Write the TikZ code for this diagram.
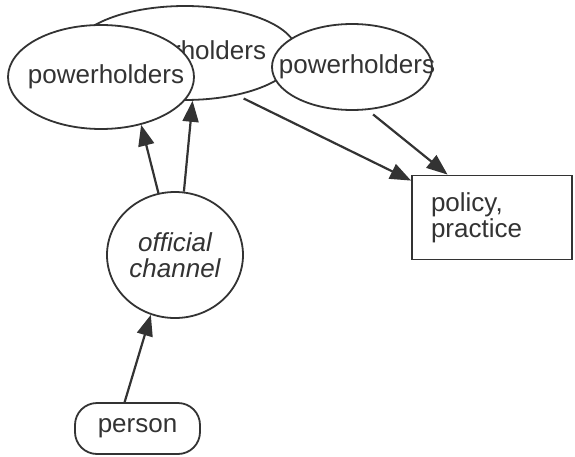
\documentclass[tikz,border=0pt]{standalone}
\usepackage{fontspec}
\setmainfont{Liberation Sans}
\usetikzlibrary{arrows.meta,shapes.geometric}

\definecolor{ink}{HTML}{333333}

\tikzset{
  every node/.style={font=\fontsize{26}{26}\selectfont, text=ink},
  outline/.style={draw=ink, line width=1.8pt, fill=white},
  blob/.style={outline, ellipse, inner sep=0pt},
  flow/.style={draw=ink, line width=2.2pt,
    -{Triangle[length=21pt,width=16pt,fill=ink]}},
}

\begin{document}
\begin{tikzpicture}[x=1pt,y=1pt]
\useasboundingbox (0,0) rectangle (575,456);

% the three groups of powerholders, the middle one lying behind the others
\node[blob, minimum width=224pt, minimum height=94pt] (mid) at (185,403)
  {\makebox[0pt]{\hspace{6pt}powerholders}};
\node[blob, minimum width=186pt, minimum height=104pt] (left) at (101,379)
  {\makebox[0pt]{\hspace{10pt}powerholders}};
\node[blob, minimum width=160pt, minimum height=86pt] (right) at (352,389)
  {\makebox[0pt]{\hspace{10pt}powerholders}};

% outcome
\node[outline, minimum width=160pt, minimum height=84pt,
      inner xsep=19pt, text width=122pt, align=left] (box) at (492,238.5)
      {policy,\\practice};

% the route a person takes
\node[blob, minimum width=136pt, minimum height=126pt, align=center,
      font=\fontsize{26}{26}\selectfont\itshape] (chan) at (175,201) {official\\channel};
\node[outline, rounded corners=22pt, minimum width=125pt,
      minimum height=51pt, inner sep=0pt] (person) at (137.5,27.5) {person};

% connectors
\draw[flow] (person.116) -- (chan.248);
\draw[flow] (chan.105.6) -- (left.310.4);
\draw[flow] (chan.82.8) -- (mid.279.5);
\draw[flow, shorten <=7pt] (mid.321) -- ([yshift=-6pt]box.north west);
\draw[flow, shorten <=7pt] (right.290) -- (box.136);
\end{tikzpicture}
\end{document}
